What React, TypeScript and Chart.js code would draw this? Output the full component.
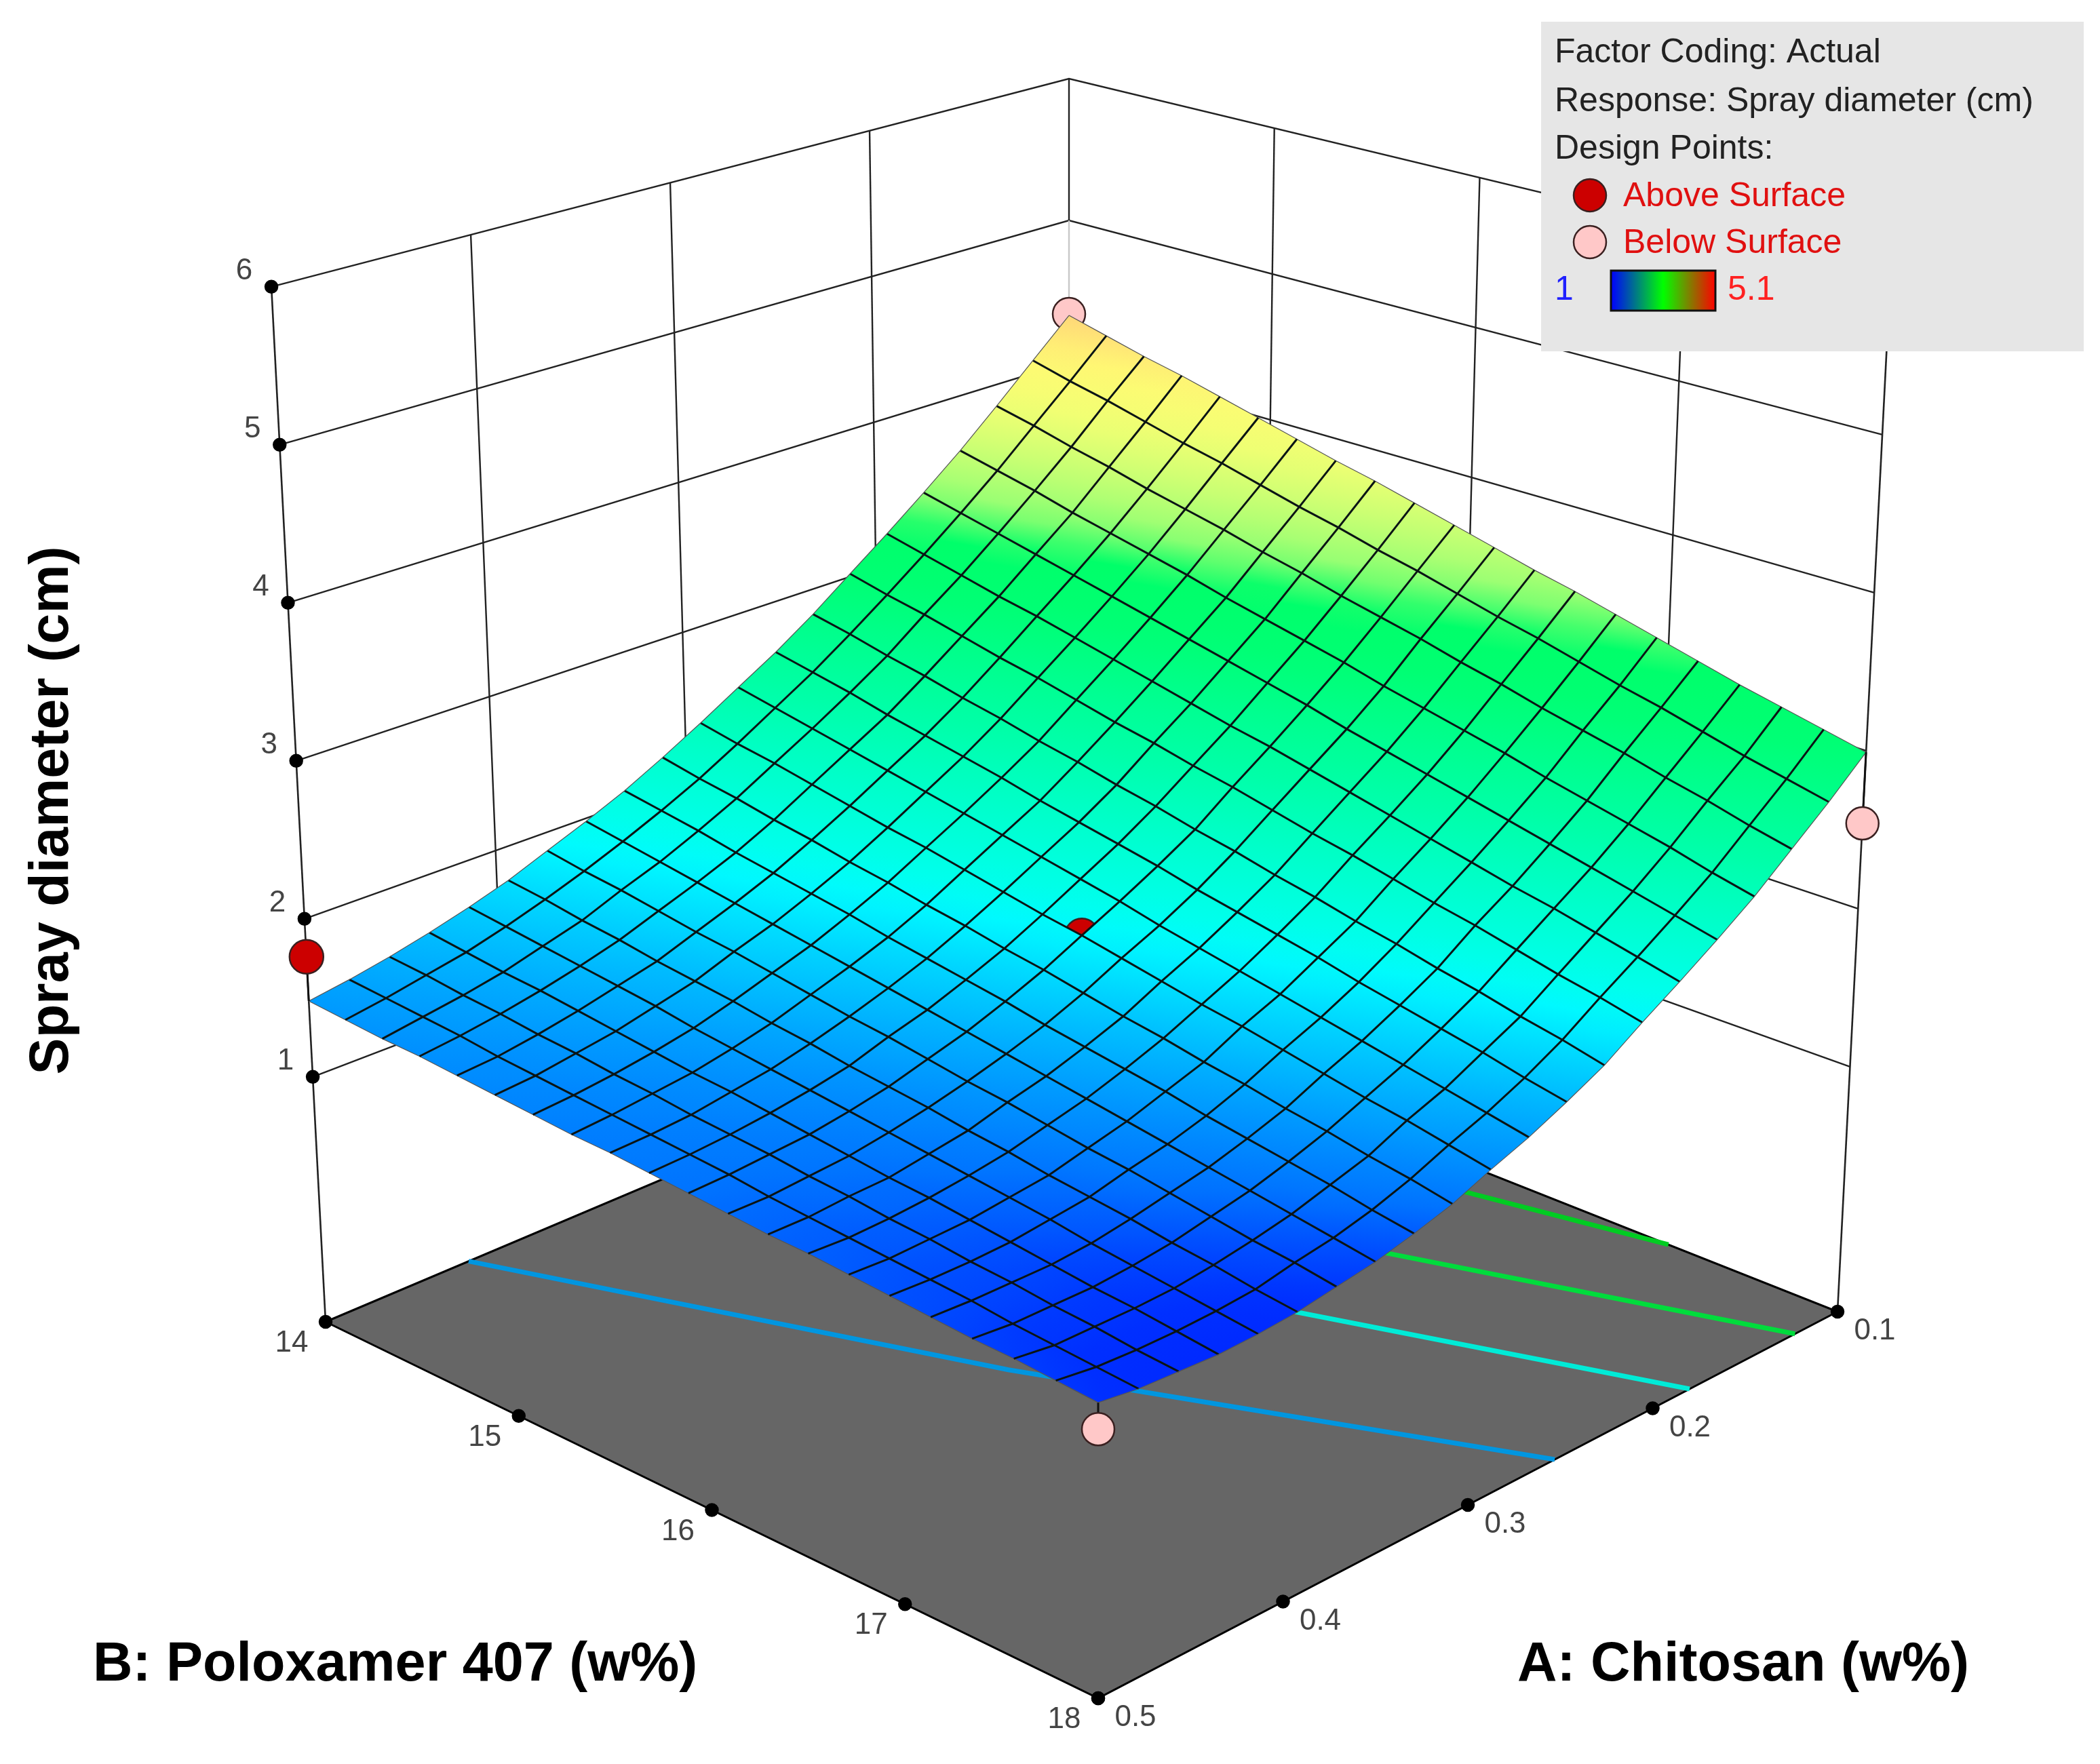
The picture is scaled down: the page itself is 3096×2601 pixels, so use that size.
import { useEffect, useRef } from 'react';
import Chart from 'chart.js/auto';

const WIDTH = 3096;
const HEIGHT = 2601;
const FONT = '"Liberation Sans", Arial, sans-serif';

// factor grids of the mesh
const chitosanGrid = [0.1, 0.12, 0.14, 0.16, 0.18, 0.2, 0.22, 0.24, 0.26, 0.28, 0.3, 0.32, 0.34, 0.36, 0.38, 0.4, 0.42, 0.44, 0.46, 0.48, 0.5];
const poloxamerGrid = [14, 14.2, 14.4, 14.6, 14.8, 15, 15.2, 15.4, 15.6, 15.8, 16, 16.2, 16.4, 16.6, 16.8, 17, 17.2, 17.4, 17.6, 17.8, 18];

// spray diameter: one row per chitosan value, one column per poloxamer value
const sprayDiameter = [
  [4.33, 4.26, 4.19, 4.13, 4.06, 3.99, 3.92, 3.85, 3.79, 3.72, 3.65, 3.58, 3.51, 3.45, 3.38, 3.31, 3.24, 3.17, 3.11, 3.05, 2.99],
  [4.09, 4.02, 3.96, 3.89, 3.82, 3.76, 3.69, 3.62, 3.56, 3.49, 3.43, 3.36, 3.29, 3.23, 3.16, 3.09, 3.03, 2.96, 2.89, 2.83, 2.77],
  [3.85, 3.79, 3.72, 3.66, 3.59, 3.53, 3.47, 3.40, 3.34, 3.27, 3.21, 3.15, 3.08, 3.02, 2.95, 2.89, 2.83, 2.76, 2.70, 2.63, 2.57],
  [3.62, 3.56, 3.50, 3.43, 3.37, 3.31, 3.25, 3.18, 3.12, 3.06, 3.00, 2.93, 2.87, 2.81, 2.75, 2.68, 2.62, 2.56, 2.50, 2.43, 2.37],
  [3.41, 3.35, 3.29, 3.23, 3.17, 3.11, 3.05, 2.99, 2.93, 2.87, 2.81, 2.74, 2.68, 2.62, 2.56, 2.50, 2.44, 2.38, 2.32, 2.26, 2.20],
  [3.21, 3.15, 3.09, 3.03, 2.98, 2.92, 2.86, 2.80, 2.74, 2.68, 2.63, 2.57, 2.51, 2.45, 2.39, 2.33, 2.27, 2.22, 2.16, 2.10, 2.04],
  [3.02, 2.96, 2.91, 2.85, 2.79, 2.74, 2.68, 2.62, 2.57, 2.51, 2.46, 2.40, 2.34, 2.29, 2.23, 2.17, 2.12, 2.06, 2.00, 1.95, 1.89],
  [2.83, 2.78, 2.72, 2.67, 2.61, 2.56, 2.50, 2.45, 2.39, 2.34, 2.28, 2.23, 2.17, 2.12, 2.06, 2.01, 1.95, 1.90, 1.84, 1.79, 1.73],
  [2.66, 2.61, 2.56, 2.50, 2.45, 2.40, 2.35, 2.29, 2.24, 2.19, 2.14, 2.08, 2.03, 1.98, 1.93, 1.87, 1.82, 1.77, 1.72, 1.66, 1.61],
  [2.51, 2.46, 2.41, 2.36, 2.31, 2.26, 2.21, 2.16, 2.11, 2.06, 2.01, 1.95, 1.90, 1.85, 1.80, 1.75, 1.70, 1.65, 1.60, 1.55, 1.50],
  [2.36, 2.31, 2.27, 2.22, 2.17, 2.12, 2.08, 2.03, 1.98, 1.93, 1.89, 1.84, 1.79, 1.74, 1.70, 1.65, 1.60, 1.55, 1.51, 1.46, 1.41],
  [2.22, 2.17, 2.13, 2.08, 2.04, 1.99, 1.95, 1.90, 1.86, 1.81, 1.77, 1.72, 1.67, 1.63, 1.58, 1.54, 1.49, 1.45, 1.40, 1.36, 1.31],
  [2.09, 2.05, 2.01, 1.96, 1.92, 1.88, 1.84, 1.79, 1.75, 1.71, 1.67, 1.62, 1.58, 1.54, 1.50, 1.45, 1.41, 1.37, 1.33, 1.28, 1.24],
  [1.98, 1.94, 1.90, 1.86, 1.82, 1.78, 1.74, 1.70, 1.66, 1.62, 1.58, 1.54, 1.50, 1.46, 1.42, 1.38, 1.34, 1.30, 1.26, 1.22, 1.18],
  [1.88, 1.84, 1.81, 1.77, 1.73, 1.70, 1.66, 1.62, 1.58, 1.55, 1.51, 1.47, 1.44, 1.40, 1.36, 1.33, 1.29, 1.25, 1.21, 1.18, 1.14],
  [1.78, 1.75, 1.71, 1.68, 1.64, 1.61, 1.58, 1.54, 1.51, 1.47, 1.44, 1.41, 1.37, 1.34, 1.30, 1.27, 1.24, 1.20, 1.17, 1.13, 1.10],
  [1.70, 1.67, 1.64, 1.61, 1.58, 1.55, 1.51, 1.48, 1.45, 1.42, 1.39, 1.36, 1.33, 1.30, 1.27, 1.24, 1.20, 1.17, 1.14, 1.11, 1.08],
  [1.63, 1.60, 1.57, 1.55, 1.52, 1.49, 1.46, 1.43, 1.41, 1.38, 1.35, 1.32, 1.29, 1.27, 1.24, 1.21, 1.18, 1.15, 1.13, 1.10, 1.07],
  [1.57, 1.55, 1.52, 1.50, 1.47, 1.45, 1.42, 1.40, 1.37, 1.35, 1.33, 1.30, 1.28, 1.25, 1.23, 1.20, 1.18, 1.15, 1.13, 1.10, 1.08],
  [1.52, 1.50, 1.48, 1.46, 1.43, 1.41, 1.39, 1.37, 1.35, 1.33, 1.31, 1.28, 1.26, 1.24, 1.22, 1.20, 1.18, 1.15, 1.13, 1.11, 1.09],
  [1.48, 1.46, 1.44, 1.43, 1.41, 1.39, 1.37, 1.35, 1.34, 1.32, 1.30, 1.28, 1.26, 1.25, 1.23, 1.21, 1.19, 1.17, 1.16, 1.14, 1.12],
];

// design points
const designChitosan = [0.5, 0.1, 0.1, 0.5, 0.3];
const designPoloxamer = [14, 14, 18, 18, 16];
const designDiameter = [1.76, 4.34, 2.54, 0.97, 1.89];
const designAbove = [true, false, false, false, true];

// floor contours: chitosan and poloxamer along each line, with its colour
const contourChitosan = [
  [0.423, 0.34, 0.253],
  [0.312, 0.248, 0.18],
  [0.244, 0.186, 0.123],
  [0.19, 0.132, 0.1],
];
const contourPoloxamer = [
  [14, 16, 18],
  [14, 16, 18],
  [14, 16, 18],
  [14, 15.5, 17.12],
];
const contourColors = ['#0096e0', '#00ebd7', '#00dc3c', '#00cc22'];

// axis ticks
const zTicks = [1, 2, 3, 4, 5, 6];
const poloxamerTicks = [14, 15, 16, 17, 18];
const chitosanTicks = [0.1, 0.2, 0.3, 0.4, 0.5];
const wallChitosan = [0.4, 0.3, 0.2];
const wallPoloxamer = [15, 16, 17];

// colour ramp of the surface
const rampLevels = [1.0, 1.12, 1.3, 1.5, 1.9, 2.0, 2.5, 3.0, 3.25, 3.33, 3.41, 3.62, 3.85, 4.09, 4.33];
const rampRed = [0, 0, 0, 0, 0, 0, 0, 0, 0, 100, 150, 200, 240, 255, 255];
const rampGreen = [30, 48, 115, 160, 250, 255, 255, 255, 255, 255, 255, 255, 255, 250, 215];
const rampBlue = [255, 255, 255, 255, 255, 235, 170, 115, 105, 110, 115, 115, 115, 115, 120];

// box corners on the page: left (0.5, 14), front (0.5, 18), right (0.1, 18), back (0.1, 14)
const cornerX = [480, 1619, 2709, 1576];
const cornerY = [1949, 2504, 1934, 1485];
const unitHeight = [233, 261, 233, 209];
const unitLean = [-12.2, 0, 11.9, 0];
const Z_FLOOR = -0.55;
// the surface is drawn with a little depth, cells get larger towards the front corner
const MESH_DEPTH = 0.08;

const blend = (v: number[], s: number, t: number) =>
  v[0] * (1 - s) * (1 - t) + v[1] * s * (1 - t) + v[2] * s * t + v[3] * (1 - s) * t;

const project = (chitosan: number, poloxamer: number, z: number) => {
  const s = (poloxamer - 14) / 4;
  const t = (0.5 - chitosan) / 0.4;
  const up = z - Z_FLOOR;
  return {
    x: blend(cornerX, s, t) + blend(unitLean, s, t) * up,
    y: blend(cornerY, s, t) - blend(unitHeight, s, t) * up,
  };
};

const projectOnMesh = (chitosan: number, poloxamer: number, z: number) => {
  const a = (chitosan - 0.1) / 0.4;
  const b = (poloxamer - 14) / 4;
  return project(0.1 + 0.4 * (a - MESH_DEPTH * a * (1 - a)), 14 + 4 * (b - MESH_DEPTH * b * (1 - b)), z);
};

const rampColor = (z: number) => {
  let i = 0;
  while (i < rampLevels.length - 2 && z > rampLevels[i + 1]) i++;
  const f = Math.min(1, Math.max(0, (z - rampLevels[i]) / (rampLevels[i + 1] - rampLevels[i])));
  const mix = (c: number[]) => Math.round(c[i] + (c[i + 1] - c[i]) * f);
  return `rgb(${mix(rampRed)},${mix(rampGreen)},${mix(rampBlue)})`;
};

const path = (data: { x: number; y: number }[], color: string, width: number) => ({
  data,
  borderColor: color,
  borderWidth: width,
  pointRadius: 0,
  fill: false,
});

const dots = (data: { x: number; y: number }[], fillColor: string, edge: string, radius: number) => ({
  data,
  showLine: false,
  pointRadius: radius,
  pointBackgroundColor: fillColor,
  pointBorderColor: edge,
  pointBorderWidth: 2.5,
});

// scales are not laid out yet on the first option pass, they map 1:1 afterwards
const toPixel = (scale: any, v: number) => {
  const px = scale.getPixelForValue(v);
  return Number.isFinite(px) ? px : v;
};

// one filled mesh cell, shaded along the slope of its diameter values
const cell = (i: number, j: number) => {
  const at = (r: number, c: number) => ({
    ...projectOnMesh(chitosanGrid[r], poloxamerGrid[c], sprayDiameter[r][c]),
    z: sprayDiameter[r][c],
  });
  const corners = [at(i, j), at(i, j + 1), at(i + 1, j + 1), at(i + 1, j)];
  return {
    data: [...corners, corners[0]].map(({ x, y }) => ({ x, y })),
    borderWidth: 0,
    pointRadius: 0,
    fill: 'shape',
    backgroundColor: (ctx: any) => {
      const { x: sx, y: sy } = ctx.chart.scales;
      const p = corners.map((c) => ({ x: toPixel(sx, c.x), y: toPixel(sy, c.y), z: c.z }));
      const ax = p[1].x - p[0].x;
      const ay = p[1].y - p[0].y;
      const bx = p[3].x - p[0].x;
      const by = p[3].y - p[0].y;
      const az = p[1].z - p[0].z;
      const bz = p[3].z - p[0].z;
      const det = ax * by - ay * bx;
      const gx = (az * by - bz * ay) / det;
      const gy = (ax * bz - bx * az) / det;
      const g2 = gx * gx + gy * gy || 1;
      const zs = p.map((c) => c.z);
      const lo = Math.min(...zs);
      const hi = Math.max(...zs);
      const along = (z: number) => [p[0].x + (gx / g2) * (z - p[0].z), p[0].y + (gy / g2) * (z - p[0].z)];
      const [x0, y0] = along(lo);
      const [x1, y1] = along(hi);
      const grad = ctx.chart.ctx.createLinearGradient(x0, y0, x1, y1);
      grad.addColorStop(0, rampColor(lo));
      grad.addColorStop(0.5, rampColor((lo + hi) / 2));
      grad.addColorStop(1, rampColor(hi));
      return grad;
    },
  };
};

const buildDatasets = () => {
  const layers: any[] = [];

  // floor and contours
  const floor = [
    project(0.5, 14, Z_FLOOR),
    project(0.5, 18, Z_FLOOR),
    project(0.1, 18, Z_FLOOR),
    project(0.1, 14, Z_FLOOR),
    project(0.5, 14, Z_FLOOR),
  ];
  layers.push({ data: floor, borderColor: '#000', borderWidth: 3, pointRadius: 0, fill: 'shape', backgroundColor: '#666666' });
  contourChitosan.forEach((line, k) => {
    layers.push(path(line.map((a, n) => project(a, contourPoloxamer[k][n], Z_FLOOR)), contourColors[k], 7));
  });

  // walls
  const wall = '#222';
  zTicks.forEach((z) => {
    layers.push(path([project(0.5, 14, z), project(0.1, 14, z), project(0.1, 18, z)], wall, 2.4));
  });
  wallChitosan.forEach((a) => layers.push(path([project(a, 14, 1), project(a, 14, 6)], wall, 2.4)));
  wallPoloxamer.forEach((b) => layers.push(path([project(0.1, b, 1), project(0.1, b, 6)], wall, 2.4)));
  layers.push(path([project(0.5, 14, Z_FLOOR), project(0.5, 14, 6)], wall, 2.6));
  layers.push(path([project(0.1, 18, Z_FLOOR), project(0.1, 18, 6)], wall, 2.6));
  layers.push(path([project(0.1, 14, 4.4), project(0.1, 14, 5)], '#c8c8c8', 2.4));
  layers.push(path([project(0.1, 14, 5), project(0.1, 14, 6)], wall, 2.4));

  // tick dots
  layers.push(dots(zTicks.map((z) => project(0.5, 14, z)), '#000', '#000', 9));
  layers.push(dots(poloxamerTicks.map((b) => project(0.5, b, Z_FLOOR)), '#000', '#000', 9));
  layers.push(dots(chitosanTicks.map((a) => project(a, 18, Z_FLOOR)), '#000', '#000', 9));

  const drawPoint = (k: number) =>
    dots(
      [projectOnMesh(designChitosan[k], designPoloxamer[k], designDiameter[k])],
      designAbove[k] ? '#cc0000' : '#ffc8c8',
      '#3a2020',
      designAbove[k] ? 25 : 24
    );
  layers.push(drawPoint(1));

  // the centre point only shows inside the cell right behind it
  const behind = chitosanGrid.length >> 1;
  layers.push(cell(behind - 1, behind - 1));
  layers.push(drawPoint(4));
  for (let i = 0; i < chitosanGrid.length - 1; i++) {
    for (let j = 0; j < poloxamerGrid.length - 1; j++) {
      if (i !== behind - 1 || j !== behind - 1) layers.push(cell(i, j));
    }
  }

  // mesh lines
  chitosanGrid.forEach((a, i) => {
    const edge = i === 0 || i === chitosanGrid.length - 1;
    layers.push(path(poloxamerGrid.map((b, j) => projectOnMesh(a, b, sprayDiameter[i][j])), edge ? '#555' : '#0a1414', edge ? 1.2 : 3));
  });
  poloxamerGrid.forEach((b, j) => {
    const edge = j === 0 || j === poloxamerGrid.length - 1;
    layers.push(path(chitosanGrid.map((a, i) => projectOnMesh(a, b, sprayDiameter[i][j])), edge ? '#555' : '#0a1414', edge ? 1.2 : 3));
  });

  // drop lines and the remaining design points
  const surfaceAt = [sprayDiameter[20][0], sprayDiameter[0][20], sprayDiameter[20][20]];
  [0, 2, 3].forEach((k, n) => {
    layers.push(path([
      project(designChitosan[k], designPoloxamer[k], surfaceAt[n]),
      project(designChitosan[k], designPoloxamer[k], designDiameter[k]),
    ], '#111', 3));
    layers.push(drawPoint(k));
  });

  // chart.js paints the first dataset last
  return layers.reverse();
};

const textPlugin = {
  id: 'boxText',
  afterDraw(chart: any) {
    const { ctx } = chart;
    const { x: sx, y: sy } = chart.scales;
    const put = (text: string, px: number, py: number, font: string, color: string, align: CanvasTextAlign = 'center') => {
      ctx.font = font;
      ctx.fillStyle = color;
      ctx.textAlign = align;
      ctx.textBaseline = 'middle';
      ctx.fillText(text, px, py);
    };
    const tickFont = `44px ${FONT}`;
    const tickColor = '#444';
    const label = (text: string, p: { x: number; y: number }, dx: number, dy: number) =>
      put(text, sx.getPixelForValue(p.x) + dx, sy.getPixelForValue(p.y) + dy, tickFont, tickColor);

    ctx.save();
    zTicks.forEach((z) => label(String(z), project(0.5, 14, z), -40, -23));
    poloxamerTicks.forEach((b) => label(String(b), project(0.5, b, Z_FLOOR), -50, 32));
    chitosanTicks.forEach((a) => label(a.toFixed(1), project(a, 18, Z_FLOOR), 55, 29));

    // axis titles
    const titleFont = `bold 81px ${FONT}`;
    put('B: Poloxamer 407 (w%)', 137, 2456, titleFont, '#000', 'left');
    put('A: Chitosan (w%)', 2237, 2456, titleFont, '#000', 'left');
    ctx.save();
    ctx.translate(78, 1195);
    ctx.rotate(-Math.PI / 2);
    put('Spray diameter (cm)', 0, 0, titleFont, '#000');
    ctx.restore();

    // legend box
    ctx.fillStyle = '#e6e6e6';
    ctx.fillRect(2272, 32, 800, 486);
    const legendFont = `50px ${FONT}`;
    put('Factor Coding: Actual', 2292, 78, legendFont, '#222', 'left');
    put('Response: Spray diameter (cm)', 2292, 150, legendFont, '#222', 'left');
    put('Design Points:', 2292, 220, legendFont, '#222', 'left');
    put('Above Surface', 2393, 290, legendFont, '#e01010', 'left');
    put('Below Surface', 2393, 359, legendFont, '#e01010', 'left');
    [[288, '#cc0000'], [357, '#ffc8c8']].forEach(([py, c]) => {
      ctx.beginPath();
      ctx.arc(2344, py as number, 24, 0, Math.PI * 2);
      ctx.fillStyle = c as string;
      ctx.fill();
      ctx.lineWidth = 2.5;
      ctx.strokeStyle = '#3a2020';
      ctx.stroke();
    });
    put('1', 2306, 428, legendFont, '#2020ff');
    const bar = ctx.createLinearGradient(2375, 0, 2529, 0);
    bar.addColorStop(0, '#0000ff');
    bar.addColorStop(0.5, '#00ff00');
    bar.addColorStop(1, '#ff0000');
    ctx.fillStyle = bar;
    ctx.fillRect(2375, 399, 154, 59);
    ctx.lineWidth = 3;
    ctx.strokeStyle = '#111';
    ctx.strokeRect(2375, 399, 154, 59);
    put('5.1', 2547, 428, legendFont, '#ff2020', 'left');
    ctx.restore();
  },
};

export default function App() {
  const canvasRef = useRef<HTMLCanvasElement | null>(null);

  useEffect(() => {
    if (!canvasRef.current) return;
    document.body.style.margin = '0';
    const chart = new Chart(canvasRef.current, {
      type: 'line',
      data: { datasets: buildDatasets() },
      options: {
        responsive: false,
        animation: false,
        devicePixelRatio: 1,
        parsing: false,
        normalized: false,
        events: [],
        elements: { line: { tension: 0 } },
        layout: { padding: 0, autoPadding: false },
        scales: {
          x: { type: 'linear', min: 0, max: WIDTH, display: false },
          y: { type: 'linear', min: 0, max: HEIGHT, reverse: true, display: false },
        },
        plugins: { legend: { display: false }, tooltip: { enabled: false } },
      },
      plugins: [textPlugin],
    } as any);
    return () => chart.destroy();
  }, []);

  return <canvas ref={canvasRef} width={WIDTH} height={HEIGHT} style={{ display: 'block' }} />;
}
